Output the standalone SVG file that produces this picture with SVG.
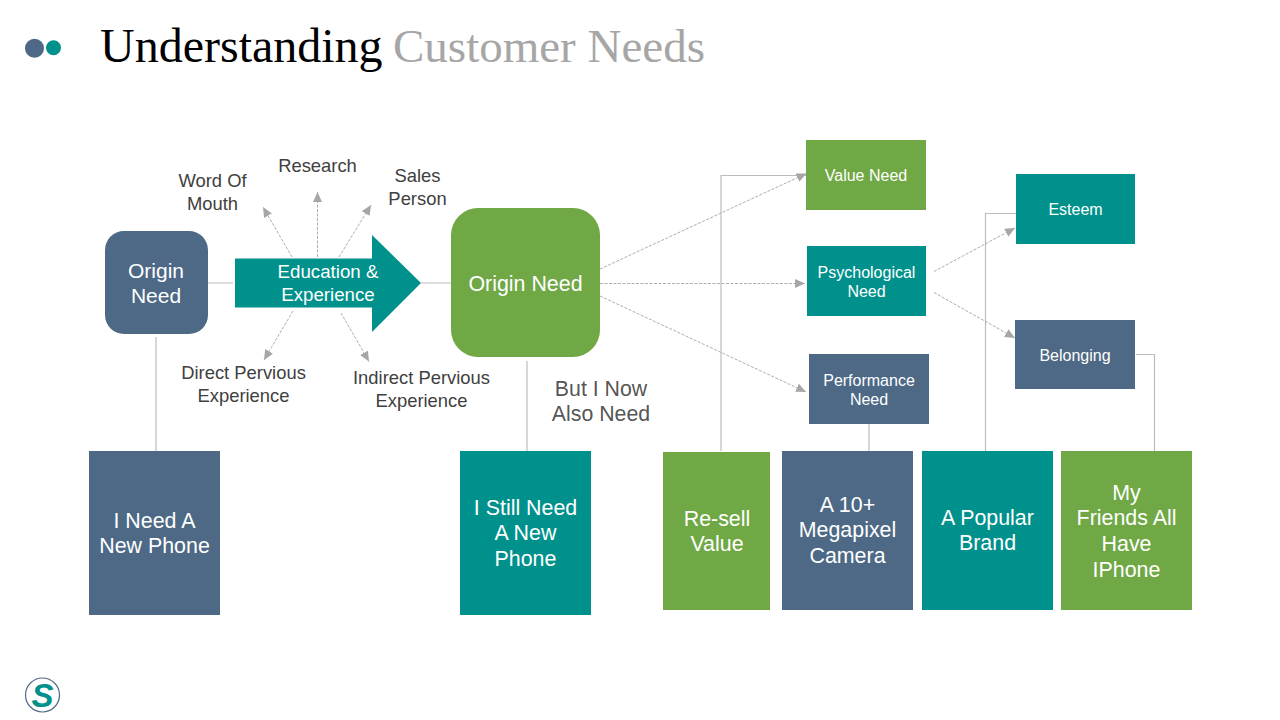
<svg xmlns="http://www.w3.org/2000/svg" width="1280" height="720" viewBox="0 0 1280 720">
<defs>
<marker id="arr" markerUnits="userSpaceOnUse" markerWidth="11" markerHeight="10" refX="10" refY="4.500" orient="auto"><path d="M0 0L10 4.500L0 9Z" fill="#a6a6a6"/></marker>
</defs>
<style>
text{font-family:"Liberation Sans",Arial,sans-serif;text-anchor:middle}
.w{fill:#fff}.d{fill:#404040}
.t20{font-size:21px}.t21{font-size:21.400px}.t18{font-size:18.400px}.t187{font-size:18.700px}.t213{font-size:21.300px}.t16{font-size:16px}
.blue{fill:#4d6986}.teal{fill:#00918c}.green{fill:#70a845}
.solid{fill:none;stroke:#bcbcbc;stroke-width:1.200}
.dash{fill:none;stroke:#adadad;stroke-width:1;stroke-dasharray:3 1.500;marker-end:url(#arr)}
.ttl{font-family:"Liberation Serif",serif}
</style>
<rect width="1280" height="720" fill="#fff"/>
<g id="title">
<circle cx="34.500" cy="48.300" r="9.500" fill="#4d6986"/><circle cx="53.500" cy="47.700" r="7.500" fill="#00918c"/>
<text class="ttl" x="100" y="62" style="text-anchor:start;font-size:48px" fill="#000">Understanding</text>
<text class="ttl" x="393" y="62" style="text-anchor:start;font-size:47px" fill="#a6a6a6">Customer Needs</text>
</g>
<g id="connectors">
<path class="solid" d="M208 283H233M421 283H451M156 337V451M527 361V451M869 424V451"/>
<path class="solid" d="M721 451V175.500H806M985.500 451V213.500H1016M1136 354.500H1154.500V451"/>
<path class="dash" d="M292 257L263 207"/>
<path class="dash" d="M317.500 257V192"/>
<path class="dash" d="M339 257L371 205"/>
<path class="dash" d="M293 311L264 360"/>
<path class="dash" d="M341 313L369 361.500"/>
<path class="dash" d="M600 269L806.500 173.500"/>
<path class="dash" d="M600 283.500H805"/>
<path class="dash" d="M600 296L806 392"/>
<path class="dash" d="M934 271.500L1015 228"/>
<path class="dash" d="M934 292.500L1015 338"/>
</g>
<g id="n-origin1"><rect class="blue" x="105" y="231" width="103" height="103" rx="19"/><text class="w t20" x="156" y="278">Origin</text><text class="w t20" x="156" y="303">Need</text></g>
<g id="n-arrow"><path class="teal" d="M235 258.500H372V235L421 283L372 332V307.500H235Z"/><text class="w t187" x="328" y="278">Education &amp;</text><text class="w t187" x="328" y="301">Experience</text></g>
<g id="n-origin2"><rect class="green" x="451" y="208" width="149" height="149" rx="27"/><text class="w t21" x="525.500" y="291">Origin Need</text></g>
<g id="l-wom"><text class="d t18" x="212.500" y="187">Word Of</text><text class="d t18" x="212.500" y="210">Mouth</text></g>
<g id="l-research"><text class="d t18" x="317.500" y="172">Research</text></g>
<g id="l-sales"><text class="d t18" x="417.500" y="182">Sales</text><text class="d t18" x="417.500" y="205">Person</text></g>
<g id="l-direct"><text class="d t18" x="243.500" y="379">Direct Pervious</text><text class="d t18" x="243.500" y="402">Experience</text></g>
<g id="l-indirect"><text class="d t18" x="421.500" y="384">Indirect Pervious</text><text class="d t18" x="421.500" y="407">Experience</text></g>
<g id="l-butnow"><text class="d t213" x="601" y="396" fill-opacity=".9">But I Now</text><text class="d t213" x="601" y="421" fill-opacity=".9">Also Need</text></g>
<g id="n-value"><rect class="green" x="806" y="140" width="120" height="70"/><text class="w t16" x="866" y="181">Value Need</text></g>
<g id="n-psych"><rect class="teal" x="807" y="246" width="119" height="70"/><text class="w t16" x="866.500" y="278">Psychological</text><text class="w t16" x="866.500" y="297">Need</text></g>
<g id="n-perf"><rect class="blue" x="809" y="354" width="120" height="70"/><text class="w t16" x="869" y="386">Performance</text><text class="w t16" x="869" y="405">Need</text></g>
<g id="n-esteem"><rect class="teal" x="1016" y="174" width="119" height="70"/><text class="w t16" x="1075.500" y="215">Esteem</text></g>
<g id="n-belonging"><rect class="blue" x="1015" y="320" width="120" height="69"/><text class="w t16" x="1075" y="361">Belonging</text></g>
<g id="n-phone1"><rect class="blue" x="89" y="451" width="131" height="164"/><text class="w t21" x="154.500" y="528">I Need A</text><text class="w t21" x="154.500" y="553">New Phone</text></g>
<g id="n-phone2"><rect class="teal" x="460" y="451" width="131" height="164"/><text class="w t21" x="525.500" y="515">I Still Need</text><text class="w t21" x="525.500" y="540">A New</text><text class="w t21" x="525.500" y="566">Phone</text></g>
<g id="n-resell"><rect class="green" x="663" y="452" width="107" height="158"/><text class="w t21" x="717" y="526">Re-sell</text><text class="w t21" x="717" y="551">Value</text></g>
<g id="n-camera"><rect class="blue" x="782" y="451" width="131" height="159"/><text class="w t21" x="847.500" y="512">A 10+</text><text class="w t21" x="847.500" y="537">Megapixel</text><text class="w t21" x="847.500" y="563">Camera</text></g>
<g id="n-brand"><rect class="teal" x="922" y="451" width="131" height="159"/><text class="w t21" x="987.500" y="525">A Popular</text><text class="w t21" x="987.500" y="550">Brand</text></g>
<g id="n-friends"><rect class="green" x="1061" y="451" width="131" height="159"/><text class="w t21" x="1126.500" y="500">My</text><text class="w t21" x="1126.500" y="525">Friends All</text><text class="w t21" x="1126.500" y="551">Have</text><text class="w t21" x="1126.500" y="577">IPhone</text></g>
<g id="logo"><circle cx="42.500" cy="695" r="17" fill="#fff" stroke="#4d6986" stroke-width="1.200"/><text x="42.500" y="706.500" style="font-size:33px;font-weight:bold;font-style:italic" fill="#00918c">S</text></g>
</svg>
